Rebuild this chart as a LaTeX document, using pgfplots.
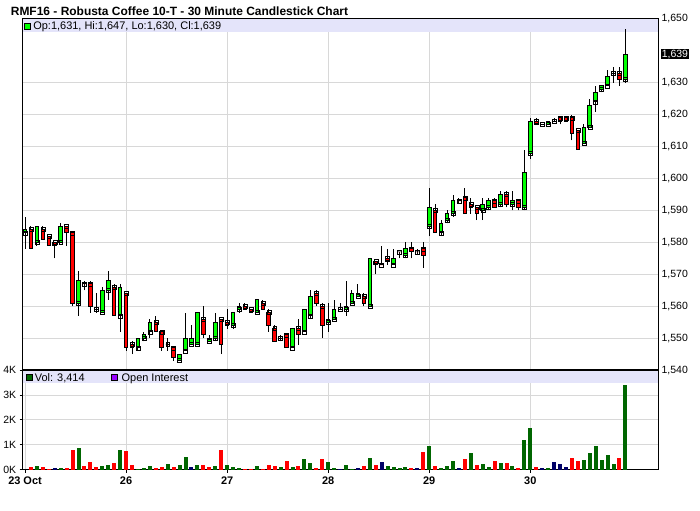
\documentclass[border=0pt]{standalone}
\usepackage{fontspec}
\setmainfont{Liberation Sans}
\usepackage{pgfplots}
\usepackage{pgfplotstable}
\pgfplotsset{compat=1.18}

\definecolor{candleup}{RGB}{0,255,0}
\definecolor{candledown}{RGB}{255,0,0}
\definecolor{volup}{RGB}{0,102,0}
\definecolor{voldown}{RGB}{255,0,0}
\definecolor{volflat}{RGB}{0,0,102}
\definecolor{band}{RGB}{228,228,250}
\definecolor{gridgray}{RGB}{216,216,216}
\definecolor{oipurple}{RGB}{153,0,255}

% 30 minute bars, 17 per session (23, 26, 27, 28, 29, 30 Oct)
\pgfplotstableread{
k O H L C
0 1583 1588 1578 1584
1 1584 1585 1578 1578
2 1580 1585 1579 1585
3 1584 1585 1581 1581
4 1582 1582 1579 1579
5 1580 1580 1575 1579
6 1580 1586 1580 1585
7 1585 1585 1579 1583
8 1583 1583 1560 1561
9 1561 1571 1557 1568
10 1567 1568 1565 1567
11 1567 1568 1558 1560
12 1559 1564 1558 1559
13 1558 1566 1558 1565
14 1565 1571 1562 1568
15 1566 1567 1557 1557
16 1557 1567 1552 1566
17 1564 1564 1546 1547
18 1548 1549 1545 1547
19 1547 1550 1546 1550
20 1550 1552 1549 1551
21 1552 1556 1550 1555
22 1555 1557 1552 1552
23 1552 1552 1546 1547
24 1548 1550 1546 1548
25 1547 1547 1543 1544
26 1543 1545 1543 1545
27 1546 1558 1546 1550
28 1548 1554 1548 1550
29 1548 1558 1548 1558
30 1556 1560 1550 1551
31 1549 1551 1549 1550
32 1550 1558 1549 1555
33 1556 1556 1545 1548
34 1555 1559 1553 1554
35 1554 1558 1553 1558
36 1559 1561 1558 1560
37 1560 1561 1559 1559
38 1559 1559 1558 1558
39 1558 1562 1558 1562
40 1561 1562 1559 1559
41 1558 1559 1552 1554
42 1553 1554 1549 1549
43 1550 1551 1549 1550
44 1551 1551 1547 1547
45 1547 1553 1547 1553
46 1553 1556 1548 1551
47 1552 1559 1552 1559
48 1557 1565 1556 1563
49 1564 1565 1560 1561
50 1560 1561 1550 1554
51 1555 1561 1552 1556
52 1556 1562 1556 1559
53 1559 1561 1559 1559
54 1559 1568 1557 1560
55 1561 1565 1561 1564
56 1563 1567 1563 1564
57 1563 1564 1560 1561
58 1560 1575 1560 1575
59 1574 1574 1570 1573
60 1573 1579 1573 1573
61 1575 1578 1573 1574
62 1573 1578 1573 1575
63 1577 1577 1575 1577
64 1576 1580 1575 1578
65 1578 1580 1575 1577
66 1577 1578 1576 1577
67 1578 1580 1572 1576
68 1585 1597 1582 1591
69 1590 1592 1583 1583
70 1583 1587 1582 1586
71 1587 1590 1586 1589
72 1589 1595 1588 1593
73 1593 1594 1592 1593
74 1594 1597 1589 1589
75 1592 1594 1589 1591
76 1591 1591 1587 1589
77 1590 1594 1587 1592
78 1591 1594 1590 1593
79 1593 1594 1591 1591
80 1592 1596 1591 1595
81 1595 1596 1591 1592
82 1592 1596 1590 1593
83 1593 1593 1590 1591
84 1591 1609 1590 1602
85 1608 1619 1606 1618
86 1618 1619 1617 1617
87 1617 1617 1617 1617
88 1617 1618 1617 1618
89 1618 1619 1618 1618
90 1619 1619 1617 1618
91 1619 1619 1618 1618
92 1619 1620 1612 1614
93 1615 1615 1609 1609
94 1611 1617 1611 1616
95 1616 1625 1616 1623
96 1624 1629 1621 1627
97 1628 1629 1627 1629
98 1629 1634 1629 1632
99 1633 1635 1630 1633
100 1633 1635 1629 1631
101 1631 1647 1630 1639
}\candles

% volume; c: 0 = down, 1 = up, 2 = unchanged
\pgfplotstableread{
k V c
1 121 0
2 161 1
3 121 0
4 40 0
5 80 2
6 80 1
7 80 0
8 805 0
9 886 1
10 161 0
11 322 0
12 121 0
13 161 1
14 201 1
15 282 0
16 805 1
17 738 0
18 201 0
19 40 1
20 80 1
21 161 1
22 80 0
23 121 0
24 242 1
25 121 0
26 201 1
27 523 1
28 121 2
29 201 1
30 201 0
31 121 0
32 161 1
33 805 0
34 201 1
35 121 1
36 80 1
37 40 0
38 40 0
39 161 1
40 40 0
41 201 0
42 161 0
43 121 1
44 362 0
45 121 1
46 161 0
47 443 1
48 282 1
49 80 0
50 443 0
51 322 1
52 80 1
53 40 2
54 201 1
55 40 1
56 80 2
57 161 0
58 482 1
59 201 0
60 321 2
61 161 1
62 120 1
63 80 1
64 120 1
65 80 0
66 80 2
67 696 0
68 964 1
69 161 0
70 80 1
71 161 1
72 361 1
73 80 2
74 442 0
75 683 1
76 201 0
77 241 1
78 120 1
79 361 0
80 281 1
81 281 0
82 161 1
83 80 0
84 1205 1
85 1687 1
86 120 0
87 80 2
88 80 1
89 321 2
90 241 2
91 120 2
92 482 0
93 375 0
94 402 1
95 683 1
96 964 1
97 402 1
98 602 1
99 241 1
100 482 0
101 3414 1
}\volume

\begin{document}
\begin{tikzpicture}
\path (0pt,0pt) rectangle (700pt,512pt);

% price panel: 352pt for 110 points -> 3.2pt per point
\begin{axis}[
    name=price, at={(21pt,141pt)}, anchor=south west,
    scale only axis, width=637pt, height=352pt,
    xmin=-0.4, xmax=106.5, ymin=1540, ymax=1650,
    xtick={17,34,51,68,85}, xticklabels={},
    ytick={1540,1550,...,1630,1650},
    yticklabel pos=right,
    extra y ticks={1639},
    extra y tick style={grid=none, tick label style={fill=black, text=white, inner sep=1pt, xshift=2.5pt}},
    scaled y ticks=false,
    /pgf/number format/assume math mode=true,
    yticklabel style={/pgf/number format/1000 sep={,}, font=\fontsize{10.5}{12}\selectfont},
    grid=major, grid style={gridgray, line width=1pt},
    major tick length=0pt,
    axis line style={line width=1pt},
    clip mode=individual,
  ]
  \fill[band] (rel axis cs:0,1) rectangle (rel axis cs:1,0.963);

  \addplot[
    scatter, only marks, mark=square,
    visualization depends on={\thisrow{H}-\thisrow{O} \as \dH},
    visualization depends on={\thisrow{L}-\thisrow{O} \as \dL},
    visualization depends on={\thisrow{C}-\thisrow{O} \as \dC},
    scatter/@pre marker code/.code={%
      \pgfmathsetmacro\hH{3.2*\dH}%
      \pgfmathsetmacro\hL{3.2*\dL}%
      \pgfmathsetmacro\hC{3.2*\dC}%
      \ifdim\hC pt>0pt \def\bodycol{candleup}\else\def\bodycol{candledown}\fi
      \draw[black, line width=1pt] (0pt,\hL pt) -- (0pt,\hH pt);%
      \filldraw[fill=\bodycol, draw=black, line width=1pt]
        (-1.8pt,0pt) rectangle (1.8pt,\hC pt);%
    },
    scatter/@post marker code/.code={},
  ] table[x=k, y=O] {\candles};
\end{axis}

% volume panel
\begin{axis}[
    name=vol, at={(21pt,41pt)}, anchor=south west,
    scale only axis, width=637pt, height=100pt,
    xmin=-0.4, xmax=106.5, ymin=0, ymax=4000,
    xtick={0,17,34,51,68,85}, xticklabels={23 Oct,26,27,28,29,30},
    xticklabel style={font=\bfseries\fontsize{11}{13}\selectfont},
    ytick={0,1000,...,4000}, yticklabels={0K,1K,2K,3K,4K},
    yticklabel style={font=\fontsize{10.5}{12}\selectfont},
    scaled y ticks=false,
    grid=major, grid style={gridgray, line width=1pt},
    tick pos=left, tick align=outside, major tick length=3pt,
    tick style={black, line width=1pt},
    axis line style={line width=1pt},
    clip mode=individual,
  ]
  \fill[band] (rel axis cs:0,1) rectangle (rel axis cs:1,0.87);
  \addplot[ycomb, mark=none, line width=4pt, voldown,
    restrict expr to domain={\thisrow{c}}{0:0}] table[x=k, y=V] {\volume};
  \addplot[ycomb, mark=none, line width=4pt, volup,
    restrict expr to domain={\thisrow{c}}{1:1}] table[x=k, y=V] {\volume};
  \addplot[ycomb, mark=none, line width=4pt, volflat,
    restrict expr to domain={\thisrow{c}}{2:2}] table[x=k, y=V] {\volume};
  \draw[line width=1.4pt] (rel axis cs:0,1) -- (rel axis cs:1,1);
\end{axis}

% title and legends
\node[anchor=west, inner sep=0pt, font=\bfseries\fontsize{12}{14}\selectfont]
  at (9pt,501pt) {RMF16 - Robusta Coffee 10-T - 30 Minute Candlestick Chart};
\filldraw[fill=candleup, draw=black, line width=0.8pt] (23pt,482.5pt) rectangle (29pt,488.5pt);
\node[anchor=base west, inner sep=0pt, font=\fontsize{11}{13}\selectfont]
  at (31.5pt,482pt) {Op:1,631, Hi:1,647, Lo:1,630, Cl:1,639};
\filldraw[fill=volup, draw=black, line width=0.8pt] (25pt,131pt) rectangle (31pt,137pt);
\node[anchor=base west, inner sep=0pt, font=\fontsize{11}{13}\selectfont]
  at (33pt,130pt) {Vol: 3,414};
\filldraw[fill=oipurple, draw=black, line width=0.8pt] (109.5pt,131pt) rectangle (115.5pt,137pt);
\node[anchor=base west, inner sep=0pt, font=\fontsize{11}{13}\selectfont]
  at (120pt,130pt) {Open Interest};
\end{tikzpicture}
\end{document}
